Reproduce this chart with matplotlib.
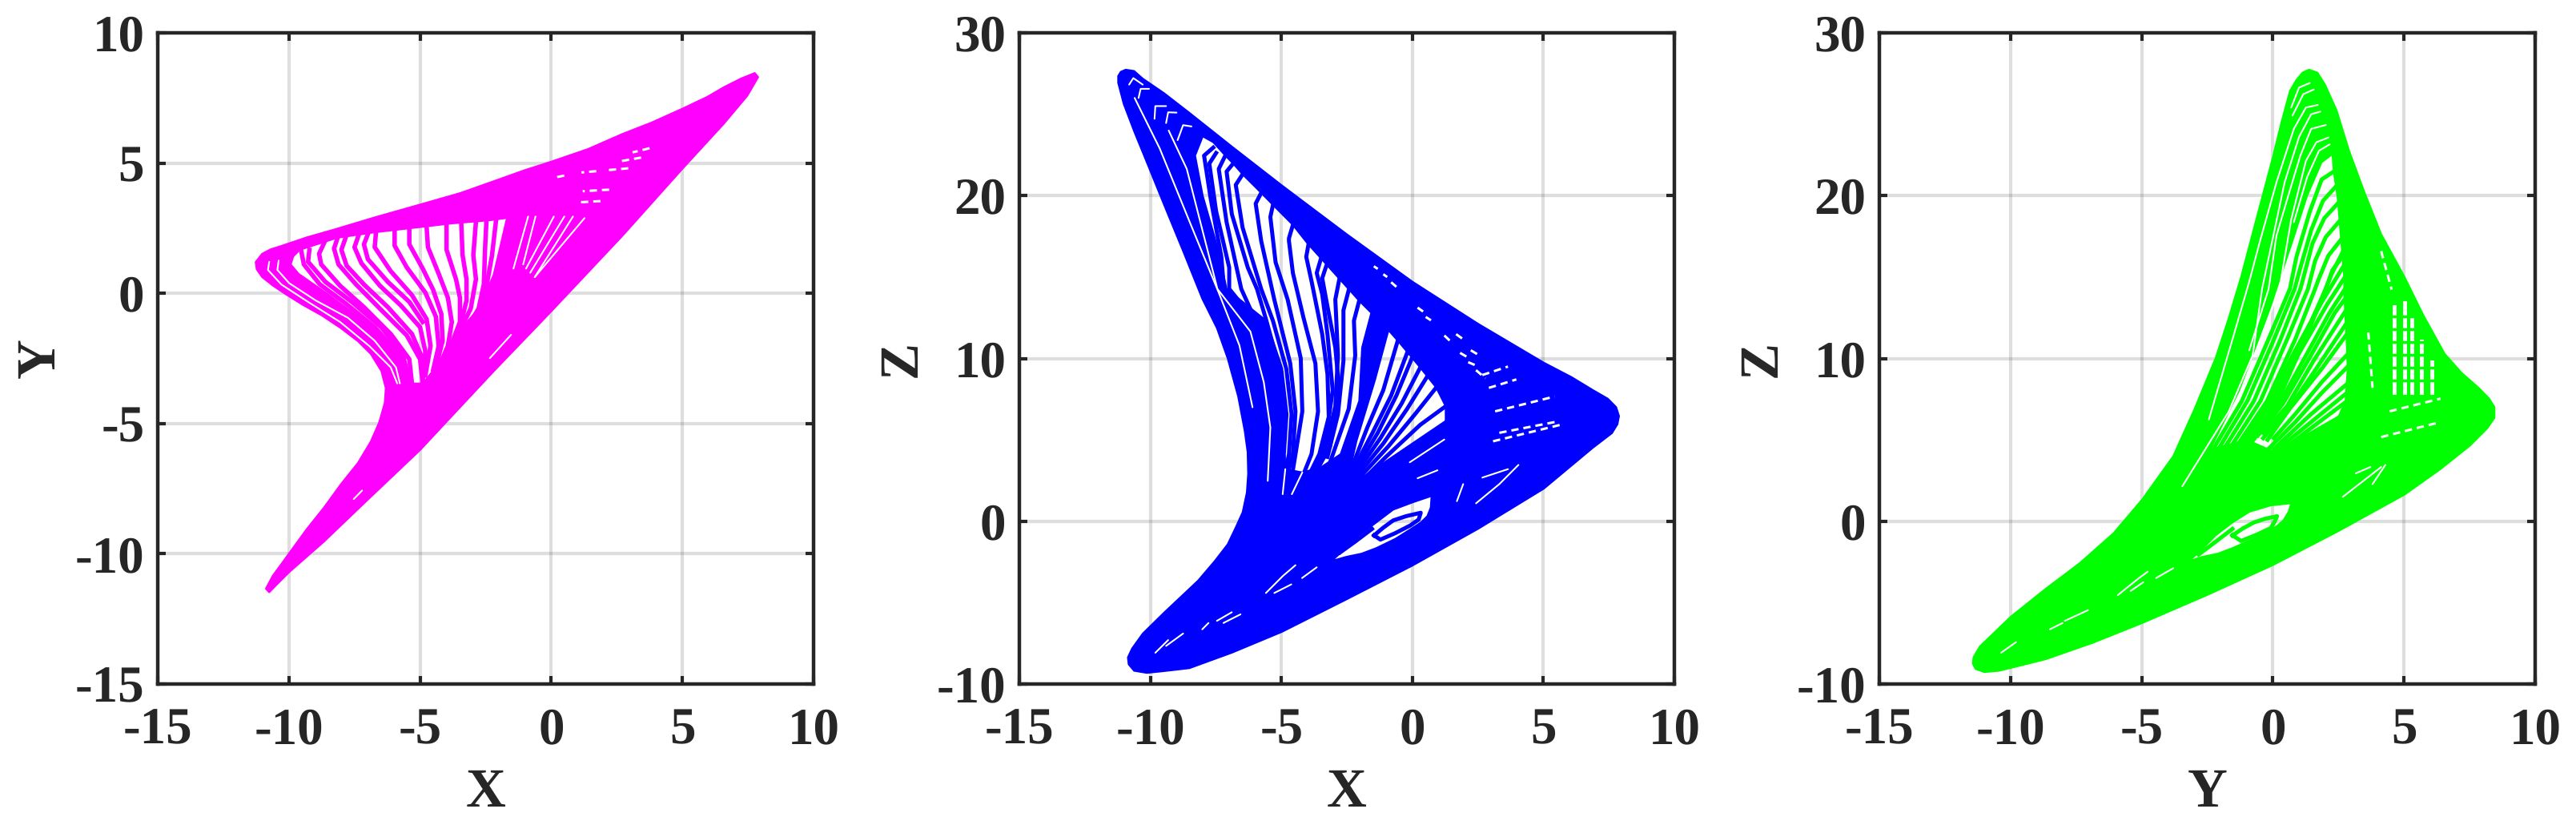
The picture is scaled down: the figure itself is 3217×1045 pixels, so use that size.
import numpy as np
import matplotlib
matplotlib.use('Agg')
import matplotlib.pyplot as plt
from matplotlib.path import Path
from matplotlib.patches import PathPatch

plt.rcParams['font.family'] = ['Liberation Serif', 'DejaVu Serif']
plt.rcParams['font.weight'] = 'bold'
plt.rcParams['axes.unicode_minus'] = False
plt.rcParams['text.hinting'] = 'no_hinting'
plt.rcParams['text.hinting_factor'] = 1

# values, in axis units
# ---------- X-Y panel ----------
xy_outer_x = [7.76, 7.89, 7.48, 6.59, 5.02, 2.69, 0.67, -0.07, -2.18, -5.0, -7.05, -8.67, -9.97, -10.46, -10.75, -10.88,
              -10.62, -9.97, -9.32, -8.67, -8.02, -7.37, -6.88, -6.56, -6.35, -6.31, -6.48, -6.88, -7.37, -8.02,
              -8.75, -9.48, -10.13, -10.62, -11.02, -11.23, -11.27, -11.02, -10.70, -10.29, -9.32, -8.34, -6.72,
              -5.0, -3.47, -2.18, -1.04, -0.02, 1.40, 2.69, 3.83, 5.02, 5.94, 6.59, 7.24]
xy_outer_y = [8.46, 8.30, 7.59, 6.52, 4.80, 2.18, 0.02, -0.77, -2.98, -6.02, -7.98, -9.54, -10.69, -11.18, -11.48, -11.34,
              -10.85, -9.95, -9.05, -8.23, -7.33, -6.51, -5.69, -4.95, -4.21, -3.64, -2.98, -2.33, -1.84, -1.34,
              -0.85, -0.44, -0.03, 0.30, 0.62, 0.92, 1.20, 1.52, 1.69, 1.82, 2.15, 2.43, 2.92,
              3.41, 3.85, 4.31, 4.72, 5.05, 5.54, 6.11, 6.56, 7.10, 7.54, 7.92, 8.25]
xy_holes = [
    ([-1.69, -2.36, -3.8, -5.0, -6.73, -8.16, -9.58, -9.83, -9.93, -9.63, -8.46, -7.24, -6.12, -5.51, -5.41,
      -4.90, -4.40, -3.48, -2.77, -2.2],
     [2.89, 2.80, 2.68, 2.54, 2.34, 2.13, 1.67, 1.42, 1.11, 0.75, -0.07, -0.99, -1.92, -2.74, -3.46,
      -3.46, -2.84, -1.4, -0.6, 0.7]),
]
xy_strands = [
    ([-9.53, -9.43, -8.82, -7.85, -6.73, -5.82, -5.51], [1.62, 1.11, 0.34, -0.38, -1.30, -2.33, -3.35]),
    ([-9.22, -9.27, -8.61, -7.60, -6.48, -5.67, -5.41], [1.67, 1.21, 0.44, -0.33, -1.30, -2.33, -3.35]),
    ([-8.66, -8.85, -8.77, -8.05, -7.14, -6.12, -5.41, -5.31], [1.93, 1.52, 1.11, 0.29, -0.53, -1.56, -2.53, -3.46]),
    ([-8.16, -8.28, -8.11, -7.44, -6.53, -5.51, -5.0, -4.90], [2.08, 1.72, 1.11, 0.34, -0.59, -1.61, -2.53, -3.46]),
    ([-7.85, -8.0, -7.80, -7.14, -6.23, -5.31, -4.90], [2.10, 1.67, 1.06, 0.34, -0.53, -1.56, -2.53]),
    ([-7.34, -7.50, -7.24, -6.53, -5.72, -5.0, -4.80, -4.90], [2.24, 1.77, 1.16, 0.29, -0.48, -1.30, -2.23, -3.35]),
    ([-6.99, -7.14, -6.99, -6.23, -5.41, -4.90], [2.27, 1.88, 1.31, 0.44, -0.33, -1.10]),
    ([-6.68, -6.73, -6.12, -5.31, -4.75, -4.60, -4.80], [2.34, 1.77, 0.85, -0.07, -0.99, -2.02, -3.15]),
    ([-5.97, -5.97, -5.51, -4.80, -4.40, -4.29, -4.50], [2.39, 1.83, 1.0, 0.03, -0.89, -2.02, -2.94]),
    ([-5.41, -5.41, -4.90, -4.50, -4.19, -4.14, -4.40], [2.49, 1.88, 0.95, 0.13, -0.79, -1.82, -2.84]),
    ([-4.75, -4.70, -4.29, -3.94, -3.79, -3.94, -4.29], [2.54, 1.77, 0.75, -0.17, -1.10, -2.02, -2.84]),
    ([-3.99, -3.99, -3.63, -3.48, -3.48, -3.79, -4.19], [2.65, 1.67, 0.54, -0.17, -1.10, -1.92, -2.84]),
    ([-3.43, -3.38, -3.23, -3.23, -3.48], [2.70, 1.47, 0.54, -0.28, -1.30]),
    ([-2.87, -2.97, -2.87, -3.07, -3.48], [2.75, 1.47, 0.54, -0.59, -1.41]),
    ([-2.47, -2.52, -2.57, -2.77, -3.38], [2.80, 1.77, 0.34, -0.59, -1.61]),
    ([-2.10, -2.26, -2.58, -3.2], [2.83, 1.44, -0.36, -1.5]),
]
xy_gaps = [
    ([-10.75, -10.80, -10.29, -9.27, -8.05, -6.94, -6.12, -5.87], [1.21, 0.90, 0.34, -0.33, -1.10, -2.02, -2.84, -3.46]),
    ([-10.39, -10.44, -9.99, -8.97, -7.75, -6.73, -5.92, -5.77], [1.26, 0.90, 0.39, -0.28, -0.94, -1.82, -2.84, -3.46]),
    ([-0.88, -1.44], [2.95, 0.95]), ([-0.60, -1.07], [2.95, 1.11]), ([0.10, -0.96], [2.95, 0.95]),
    ([0.50, -0.80], [2.95, 0.79]), ([0.83, -0.63], [2.95, 0.62]), ([1.27, -0.63], [2.89, 0.62]),
    ([-1.53, -2.34], [-1.59, -2.49]), ([-7.21, -7.53], [-7.57, -7.90]),
]
xy_dashes = [
    ([3.75, 3.10], [5.57, 5.41]), ([3.43, 2.69], [5.21, 5.08]), ([2.94, 2.05], [4.80, 4.72]),
    ([1.72, 1.15], [4.69, 4.64]), ([2.21, 1.2], [3.98, 3.92]), ([1.88, 1.0], [3.54, 3.49]),
    ([0.50, 0.10], [4.52, 4.44]),
]

# ---------- X-Z panel ----------
xz_outer_x = [-10.94, -10.62, -10.29, -9.48, -8.51, -6.89, -4.98, -2.51, 0, 2.51, 5.02, 6.08, 6.89, 7.46, 7.78, 7.89,
              7.83, 7.62, 6.89, 5.02, 2.51, 0, -2.51, -4.98, -6.89, -8.51, -9.48, -10.13, -10.62, -10.83, -10.86,
              -10.70, -10.29, -9.48, -8.18, -7.54, -7.05, -6.73, -6.48, -6.32, -6.27, -6.29, -6.40, -6.65, -7.05,
              -7.46, -8.02, -8.75, -9.48, -10.05, -10.61, -11.02, -11.23, -11.23, -11.13]
xz_outer_y = [27.74, 27.66, 27.19, 26.30, 25.09, 23.02, 20.63, 17.64, 14.72, 12.13, 9.74, 8.85, 8.06, 7.53, 7.01, 6.46,
              5.96, 5.41, 4.51, 2.0, -0.47, -2.73, -4.80, -6.80, -8.08, -9.03, -9.21, -9.32, -9.19, -8.79, -8.37,
              -7.82, -6.90, -5.62, -3.65, -2.44, -1.42, -0.34, 0.55, 1.76, 2.91, 4.25, 5.54, 7.66, 10.0,
              11.86, 13.67, 16.59, 19.45, 21.71, 23.91, 25.64, 26.93, 27.35, 27.61]
xz_holes = [
    ([-1.57, -2.03, -4.0, -4.56, -5.32, -5.77, -6.48, -6.84, -7.14, -7.60, -8.0, -8.29, -8.0, -7.39, -7.09, -5.57,
      -4.96, -4.76, -4.86, -4.85, -4.2, -3.5, -2.74, -2.03, -1.92],
     [12.80, 13.54, 17.06, 18.20, 19.43, 20.17, 21.31, 21.97, 22.46, 23.28, 23.64, 22.46, 20.0, 16.56, 14.27, 12.31,
      9.36, 6.57, 4.12, 3.2, 3.0, 3.3, 4.12, 7.39, 10.67]),
    ([-0.91, -1.42, -2.13, -2.43, -2.0, 1.27, 1.27, 0.91, 0.30, -0.51],
     [11.73, 8.70, 4.93, 2.81, 2.6, 6.16, 7.06, 8.21, 9.44, 11.0]),
    ([-3.08, -2.59, -2.03, -1.38, -0.73, 0, 0.73, 0.70, 0.57, 0.32, 0, -0.65, -1.38, -1.94, -2.51],
     [-2.44, -1.73, -0.87, -0.08, 0.71, 1.15, 1.55, 0.84, 0.31, -0.08, -0.42, -1.08, -1.65, -1.99, -2.18]),
]
xz_strands = [
    ([-5.77, -5.98, -5.77, -5.27, -4.66, -4.46, -4.56, -4.96], [20.17, 19.51, 17.22, 13.62, 9.69, 6.74, 4.12, 1.66]),
    ([-5.32, -5.42, -5.22, -4.76, -4.26, -4.20, -4.46, -4.71], [19.43, 18.69, 15.91, 13.62, 10.01, 6.74, 4.12, 1.66]),
    ([-4.56, -4.71, -4.71, -4.56, -4.15, -3.70, -3.60, -3.85, -4.46], [18.20, 17.38, 17.22, 15.25, 12.47, 9.69, 6.74, 4.12, 1.66]),
    ([-3.95, -4.05, -3.85, -3.44, -3.24, -3.19, -3.55, -4.05], [17.14, 16.24, 14.76, 11.49, 9.03, 6.41, 4.12, 2.48]),
    ([-3.50, -3.65, -3.44, -3.24, -3.04, -3.34, -3.85], [16.07, 15.25, 13.94, 11.49, 8.05, 4.61, 2.81]),
    ([-3.29, -3.44, -3.29, -2.94, -2.79, -3.14, -3.75], [15.66, 14.93, 13.62, 10.67, 8.05, 4.61, 2.81]),
    ([-2.79, -2.94, -2.84, -2.94, -3.34, -3.85], [14.85, 13.62, 10.18, 7.06, 4.28, 2.81]),
    ([-2.43, -2.63, -2.63, -2.84, -3.24], [14.19, 12.96, 9.85, 6.57, 3.95]),
    ([-2.03, -2.23, -2.18, -2.43, -3.14], [13.54, 12.31, 10.18, 6.90, 3.62]),
    ([-7.60, -7.95, -7.70, -7.29, -7.19, -6.3], [22.95, 22.46, 19.84, 16.24, 14.27, 13.0]),
    ([-7.49, -7.75, -7.49, -6.99, -6.99, -6.3], [22.62, 21.97, 19.04, 15.58, 14.27, 12.9]),
    ([-7.14, -7.39, -7.09, -6.53, -5.98, -5.27, -4.91], [22.46, 21.64, 18.37, 14.27, 12.31, 9.36, 6.57]),
    ([-6.84, -7.09, -6.89, -6.28, -5.93, -5.57, -5.07], [21.97, 21.48, 18.86, 15.58, 14.27, 12.31, 9.36]),
    ([-6.48, -6.74, -6.48, -5.77, -5.32, -4.81, -4.61, -4.71, -5.01], [21.31, 20.66, 18.04, 14.27, 12.31, 9.36, 6.57, 4.12, 1.66]),
    ([-0.56, -1.11, -1.72, -2.43], [11.08, 8.05, 5.75, 2.81]),
    ([-0.20, -0.81, -1.52, -2.38], [10.34, 7.72, 5.43, 2.81]),
    ([-0.02, -0.61, -1.32, -2.33], [10.01, 7.72, 5.43, 2.72]),
    ([0.30, -0.41, -1.22, -2.28], [9.44, 7.23, 5.10, 2.64]),
    ([0.56, -0.20, -1.11, -2.18], [8.87, 6.90, 4.77, 2.64]),
    ([0.91, 0.10, -0.91, -2.13], [8.21, 6.57, 4.61, 2.48]),
    ([1.27, 0.30, -1.01, -2.33], [7.06, 5.92, 3.95, 1.82]),
    ([-1.46, -1.13, -0.73, -0.24, 0.32, 0.24, -0.08, -0.65, -1.22, -1.46],
     [-0.87, -0.42, 0.05, 0.31, 0.52, 0.10, -0.26, -0.73, -1.13, -0.87]),
    ([-2.76, -2.19, -1.54], [-1.92, -1.26, -0.47]),
]
xz_gaps = [
    ([-9.3, -8.61, -7.44, -6.18, -5.67, -5.42, -5.52], [24.0, 21.64, 14.27, 11.65, 8.54, 5.75, 2.48]),
    ([-10.6, -9.64, -8.51, -7.37, -6.6, -6.1], [26.0, 22.89, 18.43, 13.96, 10.8, 7.0]),
    ([-10.81, -10.65, -10.29], [26.82, 27.22, 26.82]), ([-10.45, -10.37, -10.05], [26.0, 26.56, 26.56]),
    ([-9.84, -9.81, -9.40], [24.72, 25.50, 25.50]), ([-9.40, -9.32, -9.0], [24.46, 25.12, 25.1]),
    ([-8.96, -8.75, -8.43], [23.41, 24.33, 24.25]),
    ([-5.59, -4.94, -4.46], [-4.41, -3.36, -2.70]), ([-5.27, -4.62], [-4.41, -3.88]), ([-4.21, -3.65], [-3.49, -2.83]),
    ([-7.46, -6.89], [-6.12, -5.59]), ([-7.21, -6.56], [-6.25, -5.72]), ([-8.02, -7.78], [-6.64, -6.25]),
    ([-9.81, -9.32], [-8.08, -7.30]), ([-9.40, -8.75], [-7.66, -6.90]),
    ([2.43, 3.32, 4.05], [1.10, 2.28, 3.46]), ([1.94, 1.70], [2.28, 1.23]), ([2.67, 3.65], [2.68, 3.20]),
    ([1.22, -0.10], [5.02, 3.62]), ([0.96, 0.20], [3.13, 2.64]),
    ([-4.85, -4.95], [3.2, 1.66]), ([-4.2, -4.6], [3.0, 1.66]),
]
xz_dashes = [
    ([3.08, 5.75], [4.91, 5.96]), ([3.32, 5.43], [5.43, 6.09]), ([3.16, 5.43], [6.75, 7.66]),
    ([2.92, 3.97], [8.19, 8.71]), ([2.67, 3.65], [8.98, 9.50]),
    ([-1.47, -1.32], [15.66, 15.5]), ([-1.11, -0.96], [15.17, 15.0]), ([-0.81, -0.61], [14.68, 14.40]),
    ([0.20, 0.41], [13.12, 12.88]), ([0.51, 0.71], [12.55, 12.34]), ([1.22, 1.47], [11.41, 11.03]),
    ([1.67, 1.93], [11.49, 11.19]), ([1.82, 2.08], [10.34, 10.10]), ([2.23, 2.48], [10.50, 10.26]),
    ([2.13, 2.38], [9.77, 9.60]), ([2.43, 2.79], [9.28, 8.78]),
]

# ---------- Y-Z panel ----------
yz_outer_x = [1.38, 1.70, 1.99, 2.43, 2.91, 3.48, 4.13, 5.02, 5.74, 6.55, 7.20, 7.85, 8.25, 8.45, 8.45, 8.17, 7.52, 6.39,
              5.02, 2.51, 0, -2.51, -4.97, -6.88, -8.66, -9.63, -10.44, -11.0, -11.33, -11.44, -11.41, -11.17,
              -9.98, -8.66, -7.36, -6.07, -4.97, -3.80, -2.99, -2.18, -1.70, -1.21, -0.65, 0, 0.32, 0.65, 0.89, 1.13]
yz_outer_y = [27.74, 27.56, 26.82, 25.25, 22.75, 20.26, 17.64, 15.01, 12.65, 10.29, 9.11, 8.19, 7.53, 7.01, 6.35, 5.70, 4.65, 3.20,
              1.63, -0.60, -2.70, -4.54, -6.25, -7.48, -8.48, -8.87, -9.19, -9.27, -9.08, -8.74, -8.35, -7.69,
              -5.85, -4.15, -2.57, -0.73, 1.36, 3.99, 6.88, 10.03, 12.39, 15.01, 18.43, 22.36, 24.46, 26.43, 27.09, 27.56]
yz_holes = [
    ([2.27, 1.86, 1.31, 0.75, -0.17, -1.28, -2.39, -1.0, 0.0, 2.41, 2.77, 2.85, 2.82, 2.72, 2.72, 2.47, 2.32],
     [22.54, 22.05, 20.0, 17.22, 12.80, 8.05, 4.4, 5.0, 4.3, 6.08, 7.39, 9.36, 10.67, 13.94, 14.93, 19.84, 21.48]),
    ([-3.19, -2.70, -2.18, -1.54, -0.89, -0.08, 0.70, 0.60, 0.40, 0.16, -0.16, -0.81, -1.54, -2.10, -2.67],
     [-2.44, -1.73, -0.87, -0.08, 0.58, 0.97, 1.10, 0.58, 0.05, -0.29, -0.60, -1.13, -1.65, -1.99, -2.18]),
]
yz_strands = [
    ([2.32, 1.86, 1.41, 0.90, 0.65, -0.17, -1.18, -2.39, -3.20], [21.48, 20.99, 19.02, 16.24, 14.27, 11.16, 7.39, 4.12, 2.48]),
    ([2.37, 1.91, 1.46, 1.05, 0.83, 0.04, -0.97, -2.19, -3.10], [20.50, 19.68, 17.87, 15.58, 14.27, 11.16, 7.39, 4.12, 2.48]),
    ([2.47, 1.96, 1.51, 1.16, 1.05, 0.29, -0.72, -1.99, -2.90], [19.51, 18.61, 17.06, 14.93, 14.27, 11.16, 7.39, 4.12, 2.64]),
    ([2.55, 2.02, 1.61, 1.34, 0.54, -0.47, -1.78, -2.69], [18.45, 17.46, 15.99, 14.27, 11.16, 7.39, 4.12, 2.81]),
    ([2.60, 2.12, 1.76, 1.61, 0.85, -0.22, -1.58, -2.49], [17.30, 16.32, 14.93, 14.27, 11.16, 7.39, 4.12, 2.81]),
    ([2.65, 2.27, 2.02, 1.15, -0.01, -1.38, -2.29], [16.24, 15.42, 14.27, 11.16, 7.39, 4.12, 2.97]),
    ([2.67, 2.26, 1.35, 0.19, -1.18, -2.19], [16.56, 15.25, 11.65, 7.39, 4.28, 3.13]),
    ([2.69, 1.86, 0.75, -0.37, -1.28], [15.66, 13.45, 10.18, 6.74, 4.77]),
    ([2.72, 2.06, 0.95, -0.17, -1.08], [14.93, 13.29, 10.18, 6.57, 4.77]),
    ([2.75, 2.16, 1.15, 0.14, -0.77], [14.27, 12.80, 9.85, 6.90, 4.93]),
    ([2.77, 2.36, 1.45, 0.39, -0.57], [13.70, 12.80, 10.18, 7.23, 5.26]),
    ([2.79, 1.55, 0.54, -0.37], [12.96, 9.85, 7.06, 5.43]),
    ([2.80, 1.65, 0.54, -0.37], [12.14, 9.36, 6.74, 5.10]),
    ([2.82, 1.86, 0.64, -0.2], [11.49, 9.36, 6.90, 5.0]),
    ([2.85, 1.86, 0.85, 0.04], [10.26, 8.54, 6.57, 5.10]),
    ([2.87, 1.86, 0.85, -0.37], [9.52, 7.88, 6.08, 4.12]),
    ([2.85, 1.45, 0.04], [8.46, 6.57, 4.44]),
    ([2.82, 1.45, -0.17], [7.88, 6.08, 3.95]),
    ([2.77, 1.35, -0.37], [7.31, 5.59, 3.46]),
    ([2.56, 1.05, -0.67], [6.41, 5.02, 2.81]),
    ([-1.54, -1.15, -0.73, -0.30, 0.16, 0.08, -0.08, -0.65, -1.21, -1.54],
     [-0.87, -0.45, -0.08, 0.15, 0.31, 0.0, -0.42, -0.85, -1.21, -0.87]),
    ([-2.83, -2.18, -1.54], [-2.05, -1.26, -0.47]),
]
yz_gaps = [
    ([1.71, 1.26, 0.80, 0.14, -0.46, -0.92, -1.48, -2.44], [25.57, 25.41, 24.10, 20.82, 17.38, 14.60, 11.49, 6.25]),
    ([1.81, 1.46, 1.0, 0.45, -0.41, -0.77, -1.68, -3.45], [25.16, 25.0, 23.61, 20.82, 14.27, 10.18, 6.74, 2.15]),
    ([1.41, 1.0, 0.70], [26.92, 26.64, 25.41]),
    ([1.56, 1.16, 0.75], [26.52, 26.23, 24.92]),
    ([2.02, 1.46, 1.05, 0.65, 0.14, -0.16, -0.9], [24.34, 24.10, 22.46, 20.33, 17.55, 14.27, 10.5]),
    ([2.12, 1.66, 1.26, 0.70, 0.25, -0.4], [23.57, 23.28, 22.13, 18.53, 14.27, 11.5]),
    ([2.17, 1.76, 1.31, 0.80], [23.15, 22.76, 21.15, 18.37]),
    ([-5.91, -5.10, -4.77], [-4.54, -3.49, -3.10]), ([-5.42, -4.94], [-4.28, -3.75]), ([-4.45, -3.80], [-3.49, -2.89]),
    ([-7.93, -7.04], [-6.12, -5.46]), ([-8.50, -8.01], [-6.64, -6.25]), ([-10.36, -9.79], [-8.08, -7.43]),
    ([2.67, 4.13], [1.50, 3.33]), ([3.80, 4.29], [2.28, 3.46]), ([3.16, 3.72], [2.94, 3.33]),
]
yz_dashes = [
    ([4.45, 6.39], [6.75, 7.53]), ([4.13, 6.39], [5.17, 6.09]),
    ([4.13, 4.53], [16.59, 14.23]), ([3.64, 3.80], [11.6, 8.19]),
]
# lattice at the right of the Y-Z panel: white columns crossed by green strands
yz_col_x = [4.64, 5.02, 5.29, 5.66, 6.07]
yz_col_bottom = [7.93, 7.93, 7.93, 7.93, 7.93]
yz_col_top = [13.18, 13.44, 12.39, 11.08, 9.76]
yz_row_z = [8.66, 9.45, 10.24, 11.02, 11.81, 12.6]
yz_row_left = [4.3, 4.3, 4.3, 4.3, 4.3, 4.3]
yz_row_right = [7.0, 6.8, 6.5, 6.1, 5.6, 5.4]

panels = [
    dict(pos=(197, 1016), outer=(xy_outer_x, xy_outer_y), holes=xy_holes, strands=xy_strands, gaps=xy_gaps,
         dashes=xy_dashes, color='#ff00ff', lw=4.0, ylim=(-15, 10), yticks=[-15, -10, -5, 0, 5, 10],
         xlabel='X', ylabel='Y'),
    dict(pos=(1273, 2091), outer=(xz_outer_x, xz_outer_y), holes=xz_holes, strands=xz_strands, gaps=xz_gaps,
         dashes=xz_dashes, color='#0000ff', lw=3.6, ylim=(-10, 30), yticks=[-10, 0, 10, 20, 30],
         xlabel='X', ylabel='Z'),
    dict(pos=(2347, 3166), outer=(yz_outer_x, yz_outer_y), holes=yz_holes, strands=yz_strands, gaps=yz_gaps,
         dashes=yz_dashes, color='#00ff00', lw=3.6, ylim=(-10, 30), yticks=[-10, 0, 10, 20, 30],
         xlabel='Y', ylabel='Z'),
]

W, H = 3217, 1045
TOP, BOTTOM = 41, 854
INK = '#262626'
TICK_FS = 47
LABEL_FS = 50


def ring(xs, ys, ccw):
    pts = np.column_stack([xs, ys])
    area = np.sum(pts[:, 0] * np.roll(pts[:, 1], -1) - np.roll(pts[:, 0], -1) * pts[:, 1])
    if (area > 0) != ccw:
        pts = pts[::-1]
    return Path(np.vstack([pts, pts[0]]), closed=True)


fig = plt.figure(figsize=(W / 100, H / 100), dpi=100)
for i, p in enumerate(panels):
    left, right = p['pos']
    ax = fig.add_axes([left / W, 1 - BOTTOM / H, (right - left) / W, (BOTTOM - TOP) / H])
    ax.set_axisbelow(True)
    ax.grid(True, color=INK, alpha=0.15, linewidth=3)

    rings = [ring(*p['outer'], True)] + [ring(hx, hy, False) for hx, hy in p['holes']]
    ax.add_patch(PathPatch(Path.make_compound_path(*rings), facecolor=p['color'], edgecolor=p['color'],
                           linewidth=1.5, joinstyle='round', zorder=3))
    for sx, sy in p['strands']:
        ax.plot(sx, sy, color=p['color'], linewidth=p['lw'], solid_joinstyle='round', zorder=4)
    for gx, gy in p['gaps']:
        ax.plot(gx, gy, color='white', linewidth=1.5, solid_capstyle='round', zorder=5)
    for gx, gy in p['dashes']:
        ax.plot(gx, gy, color='white', linewidth=2.2, linestyle=(0, (3, 2)), zorder=5)
    if i == 2:
        for cx, c0, c1 in zip(yz_col_x, yz_col_bottom, yz_col_top):
            ax.plot([cx, cx], [c0, c1], color='white', linewidth=3.5, zorder=5)
        for rz, r0, r1 in zip(yz_row_z, yz_row_left, yz_row_right):
            ax.plot([r0, r1], [rz, rz], color=p['color'], linewidth=2.5, zorder=6)

    ax.set_xlim(-15, 10)
    ax.set_ylim(*p['ylim'])
    ax.set_xticks([-15, -10, -5, 0, 5, 10])
    ax.set_yticks(p['yticks'])
    ax.tick_params(direction='in', top=True, right=True, length=7, width=3, color=INK, labelcolor=INK,
                   labelsize=TICK_FS)
    ax.tick_params(axis='x', pad=21)
    ax.tick_params(axis='y', pad=12)
    for s in ax.spines.values():
        s.set_linewidth(3.2)
        s.set_color(INK)
        s.set_zorder(10)
    ax.set_xlabel(p['xlabel'], fontsize=LABEL_FS, fontweight='bold', color=INK, labelpad=12)
    ax.set_ylabel(p['ylabel'], fontsize=LABEL_FS, fontweight='bold', color=INK, labelpad=8)

fig.savefig('out.png', dpi=100, facecolor='white')
